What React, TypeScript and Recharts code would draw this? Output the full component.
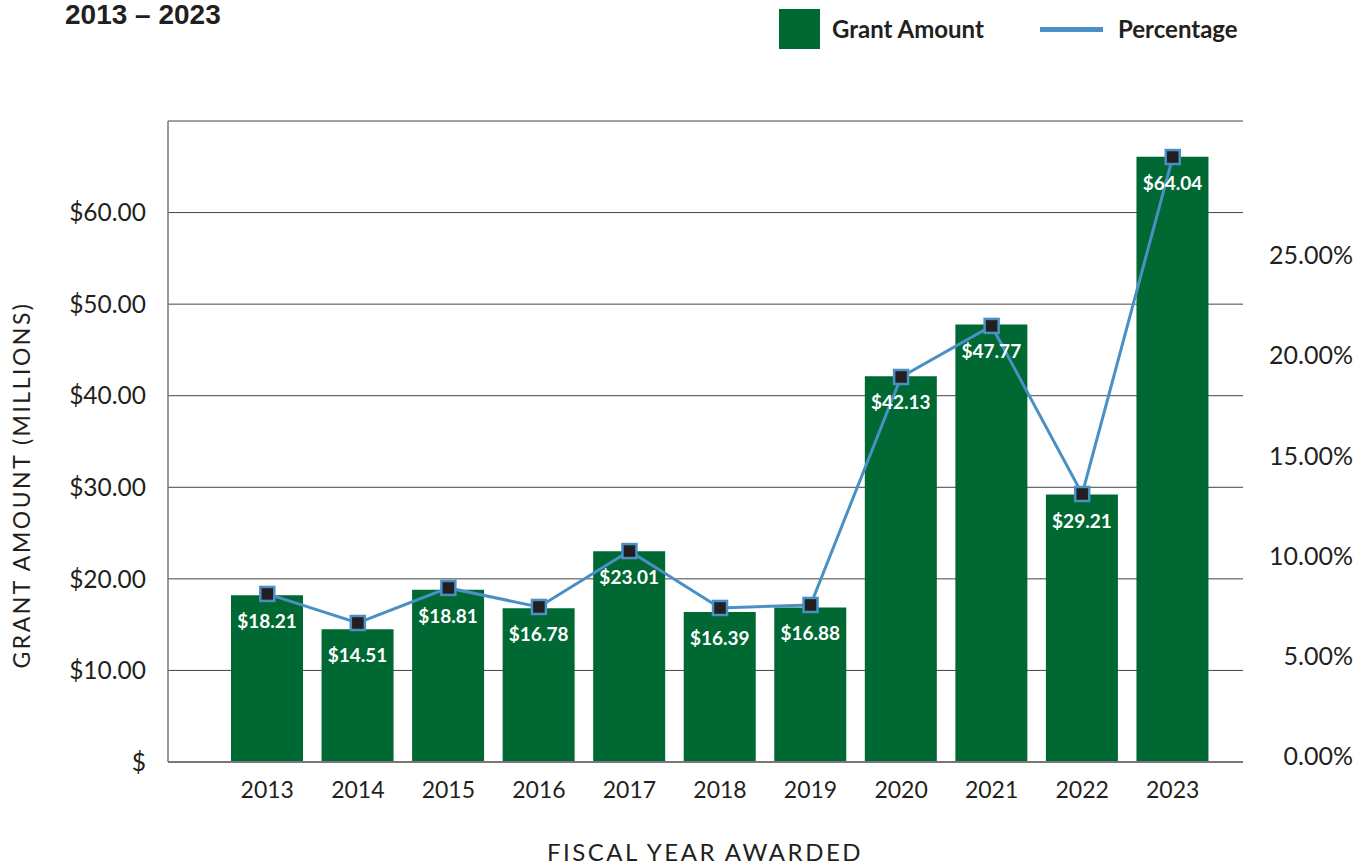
import React from 'react';
import { ComposedChart, Bar, Line, XAxis, YAxis, CartesianGrid, LabelList } from 'recharts';

const years = ['2013', '2014', '2015', '2016', '2017', '2018', '2019', '2020', '2021', '2022', '2023'];
const grantAmounts = [18.21, 14.51, 18.81, 16.78, 23.01, 16.39, 16.88, 42.13, 47.77, 29.21, 66.1];
const grantLabels = ['$18.21', '$14.51', '$18.81', '$16.78', '$23.01', '$16.39', '$16.88', '$42.13', '$47.77', '$29.21', '$64.04'];
const percentages = [8.39, 6.94, 8.69, 7.74, 10.53, 7.69, 7.84, 19.22, 21.77, 13.38, 30.2];
const amountTicks = [0, 10, 20, 30, 40, 50, 60, 70];
const percentTicks = [0, 5, 10, 15, 20, 25];

const chartData = years.map((year, i) => ({
    year,
    amount: grantAmounts[i],
    label: grantLabels[i],
    percent: percentages[i],
}));

const FONT = 'Lato, "Open Sans", sans-serif';
const GREEN = '#006832';
const BLUE = '#4a90c4';
const INK = '#231f20';

const SquareDot = (props: any) => {
    const { cx, cy } = props;
    if (cx == null || cy == null) return null;
    return <rect x={cx - 7} y={cy - 7} width={14} height={14} fill={INK} stroke={BLUE} strokeWidth={2.5} />;
};

const BarLabel = (props: any) => {
    const { x, y, width, index } = props;
    return (
        <text x={x + width / 2} y={y + 33} textAnchor="middle" fill="#fff" fontSize={19} fontWeight={700} fontFamily={FONT}>
            {grantLabels[index]}
        </text>
    );
};

const RightTick = (props: any) => {
    const { x, y, payload } = props;
    return (
        <text x={x + 108} y={y + 3} textAnchor="end" fill={INK} fontSize={25} fontFamily={FONT}>
            {`${payload.value.toFixed(2)}%`}
        </text>
    );
};

const legendText: React.CSSProperties = {
    position: 'absolute',
    top: 14,
    fontFamily: FONT,
    fontWeight: 700,
    fontSize: 24,
    lineHeight: '30px',
    color: INK,
    whiteSpace: 'nowrap',
};

const LegendBox = () => (
    <>
        <div style={{ position: 'absolute', left: 779, top: 9, width: 41, height: 40, background: GREEN }} />
        <div style={{ ...legendText, left: 832 }}>Grant Amount</div>
        <div style={{ position: 'absolute', left: 1040, top: 27, width: 63, height: 5, background: BLUE }} />
        <div style={{ ...legendText, left: 1118 }}>Percentage</div>
    </>
);

const App: React.FC = () => {
    return (
        <div style={{ position: 'absolute', left: 0, top: 0, width: 1367, height: 865, background: '#fff' }}>
            <div style={{ position: 'absolute', left: 65, top: 0, fontFamily: '"Liberation Sans", Arial, sans-serif', fontWeight: 900, fontSize: 28, lineHeight: '30px', color: INK, whiteSpace: 'nowrap', zIndex: 2 }}>
                2013 – 2023
            </div>
            <LegendBox />
            <ComposedChart width={1367} height={865} data={chartData} margin={{ top: 121, right: 16, bottom: 73, left: 68 }}>
                <CartesianGrid yAxisId="left" vertical={false} stroke="#444" strokeWidth={1} />
                <XAxis
                    dataKey="year"
                    height={30}
                    padding={{ left: 54, right: 25 }}
                    tickLine={false}
                    tickSize={0}
                    tickMargin={20}
                    axisLine={{ stroke: '#777', strokeWidth: 2 }}
                    tick={{ fill: INK, fontSize: 23, fontFamily: FONT }}
                    label={() => (
                        <text x={705} y={861} textAnchor="middle" fill={INK} fontSize={24} fontFamily={FONT} letterSpacing={2.5}>
                            FISCAL YEAR AWARDED
                        </text>
                    )}
                />
                <YAxis
                    yAxisId="left"
                    width={100}
                    domain={[0, 70]}
                    ticks={amountTicks}
                    interval={0}
                    tickLine={false}
                    tickSize={0}
                    tickMargin={22}
                    axisLine={{ stroke: '#777', strokeWidth: 1.5 }}
                    tick={{ fill: INK, fontSize: 24.5, fontFamily: FONT }}
                    tickFormatter={(v: number) => (v === 0 ? '$' : v === 70 ? '' : `$${v.toFixed(2)}`)}
                    label={() => (
                        <text x={30} y={485} transform="rotate(-90 30 485)" textAnchor="middle" fill={INK} fontSize={23} fontFamily={FONT} letterSpacing={2.5}>
                            GRANT AMOUNT (MILLIONS)
                        </text>
                    )}
                />
                <YAxis
                    yAxisId="right"
                    orientation="right"
                    width={108}
                    domain={[0, 32]}
                    ticks={percentTicks}
                    interval={0}
                    tickLine={false}
                    tickSize={0}
                    axisLine={false}
                    tick={<RightTick />}
                />
                <Bar yAxisId="left" dataKey="amount" name="Grant Amount" fill={GREEN} barSize={72} isAnimationActive={false}>
                    <LabelList dataKey="label" content={<BarLabel />} />
                </Bar>
                <Line
                    yAxisId="right"
                    type="linear"
                    dataKey="percent"
                    name="Percentage"
                    stroke={BLUE}
                    strokeWidth={3}
                    dot={<SquareDot />}
                    activeDot={false}
                    isAnimationActive={false}
                />
            </ComposedChart>
        </div>
    );
};

export default App;
